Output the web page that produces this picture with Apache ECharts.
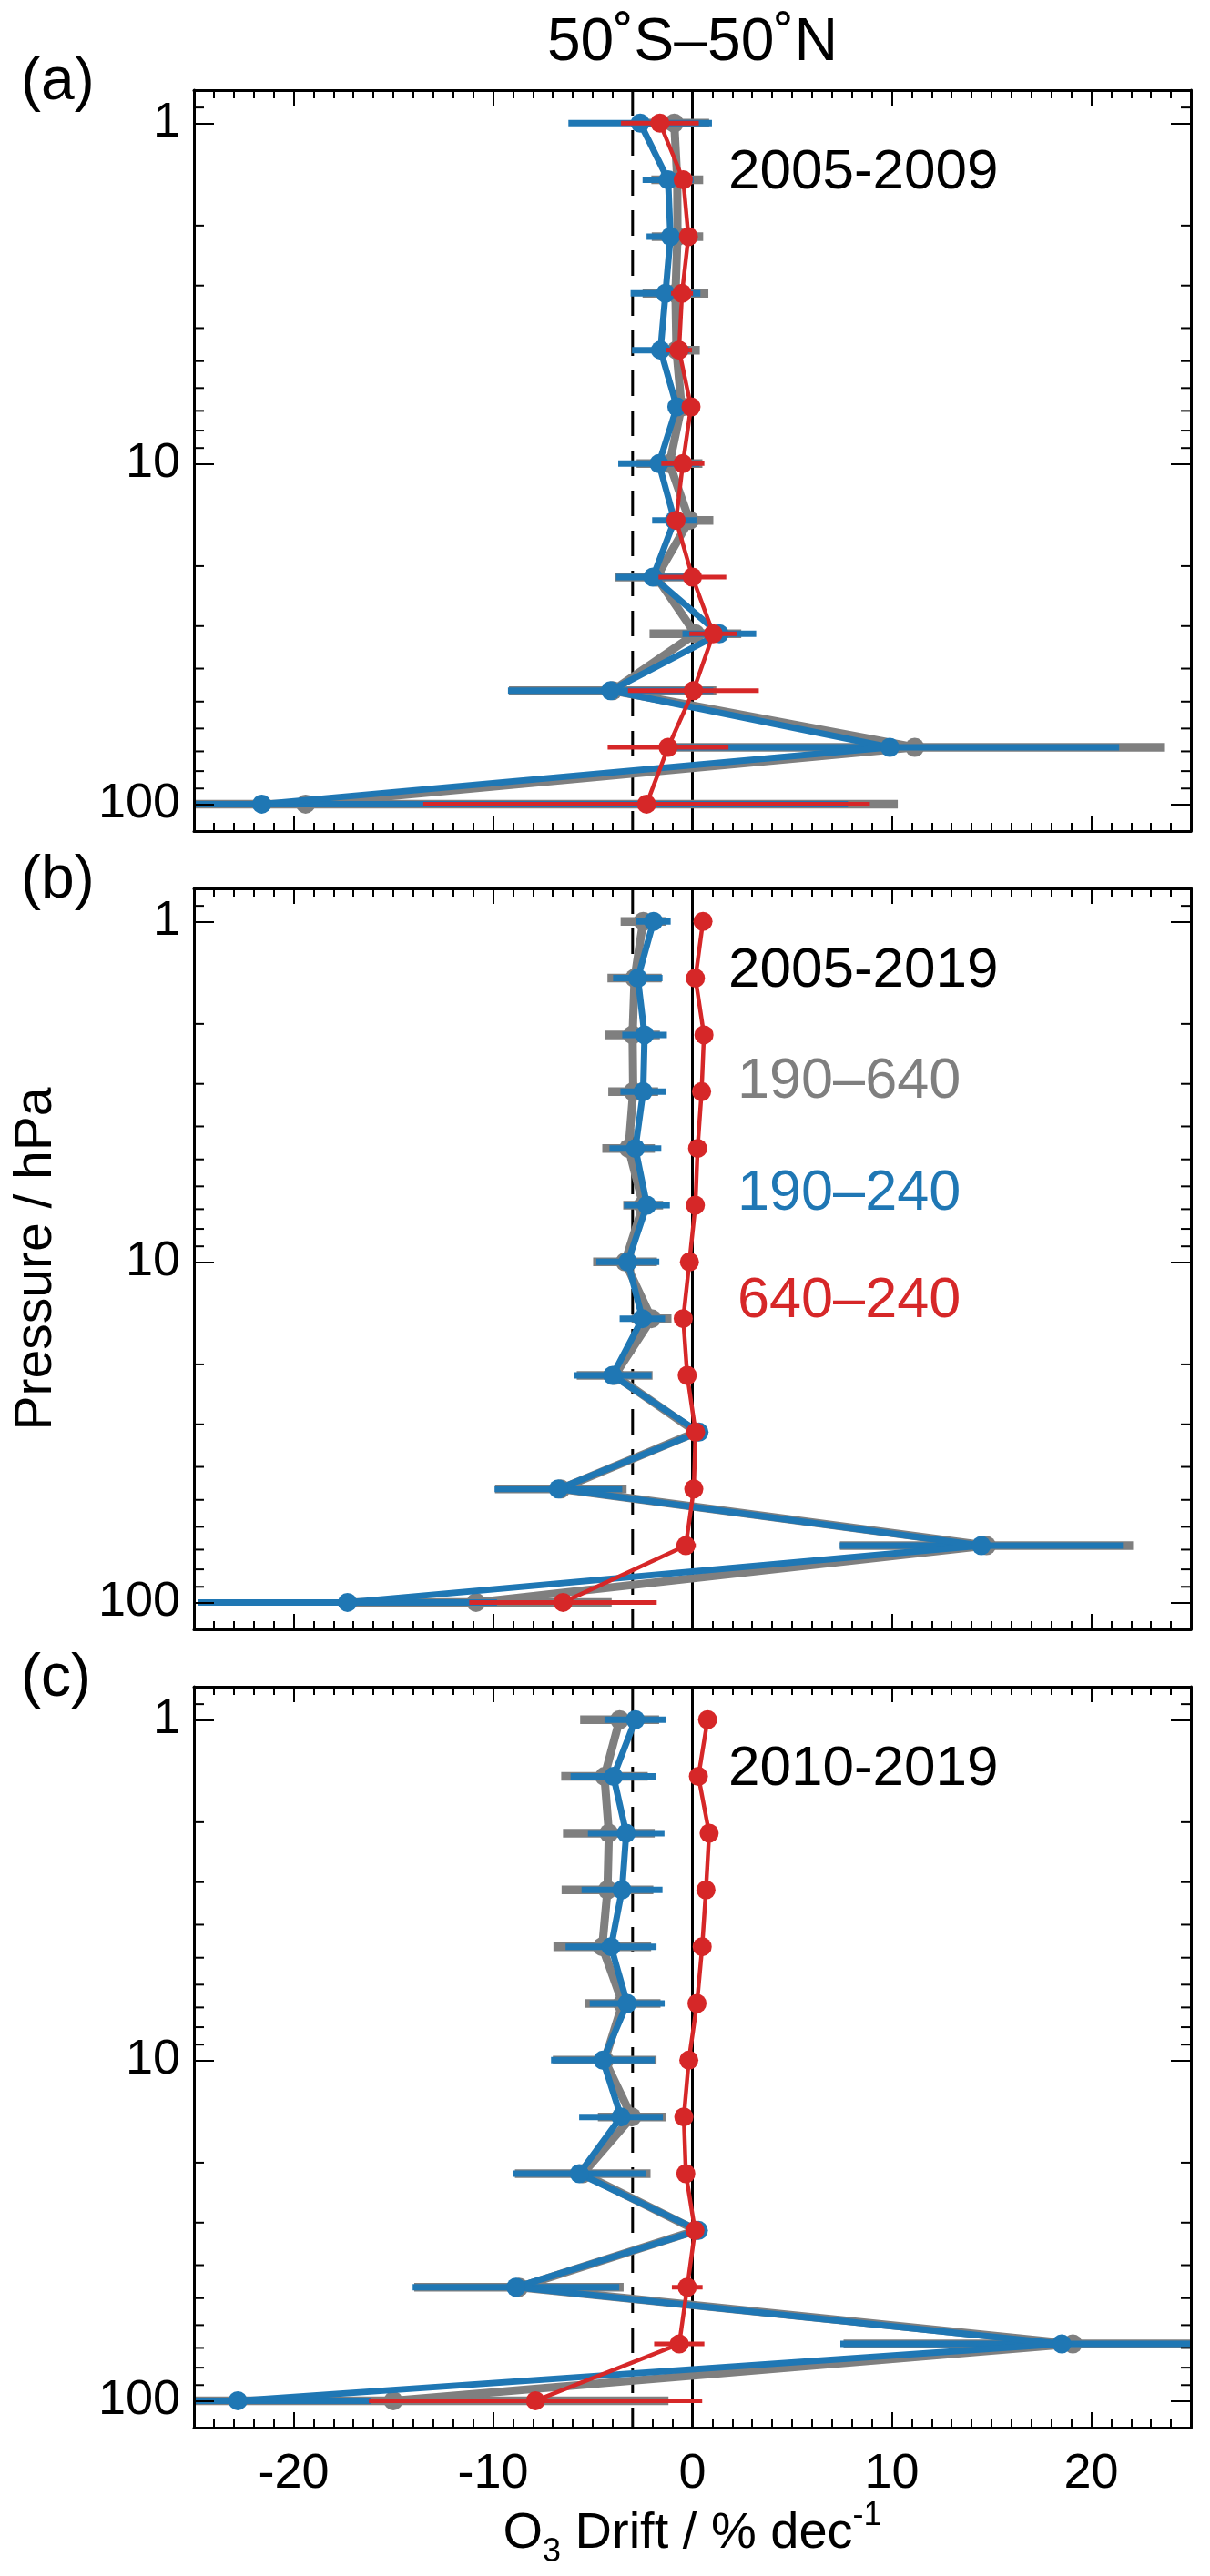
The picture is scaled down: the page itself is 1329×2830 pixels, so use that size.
<!DOCTYPE html>
<html>
<head>
<meta charset="utf-8">
<script src="https://cdn.jsdelivr.net/npm/echarts@6/dist/echarts.min.js"></script>
<style>
html,body{margin:0;padding:0;background:#ffffff;}
#chart{width:1329px;height:2830px;}
</style>
</head>
<body>
<div id="chart"></div>
<script>
// ---------------- data ----------------
var pressure = [1, 1.468, 2.154, 3.162, 4.642, 6.813, 10, 14.68, 21.54, 31.62, 46.42, 68.13, 100];
var periods = ['2005-2009', '2005-2019', '2010-2019'];
var panelLabels = ['(a)', '(b)', '(c)'];
var legendNames = ['190\u2013640', '190\u2013240', '640\u2013240'];
var xTicksRange = [-25, 25];
var yRange = [0.8, 120];
var yMinorTicks = [0.9, 2, 3, 4, 5, 6, 7, 8, 9, 20, 30, 40, 50, 60, 70, 80, 90];
var zeroLine = [0];
var driftLimit = [-3];

// panel (a) 2005-2009
var a_gray     = [-0.91, -0.76, -0.75, -0.85, -0.80, -0.55, -1.15, -0.15, -1.80, 0.15, -4.00, 11.15, -19.4];
var a_gray_err = [1.75, 1.30, 1.29, 1.65, 1.17, 0.60, 1.65, 1.20, 2.10, 2.30, 5.20, 12.55, 29.7];
var a_blue     = [-2.62, -1.22, -1.10, -1.35, -1.60, -0.78, -1.68, -0.90, -1.98, 1.35, -4.10, 9.90, -21.6];
var a_blue_err = [3.60, 1.28, 1.20, 1.75, 1.43, 0.42, 2.04, 1.12, 1.85, 1.85, 5.15, 11.5, 29.4];
var a_red      = [-1.63, -0.46, -0.20, -0.52, -0.67, -0.07, -0.48, -0.82, 0.00, 1.05, 0.05, -1.22, -2.30];
var a_red_err  = [1.95, 0.30, 0.30, 0.55, 0.65, 0.30, 1.08, 0.40, 1.70, 1.20, 3.28, 3.03, 11.2];

// panel (b) 2005-2019
var b_gray     = [-2.47, -2.90, -3.00, -2.97, -3.20, -2.47, -3.38, -2.05, -3.90, 0.20, -6.60, 14.75, -10.85];
var b_gray_err = [1.13, 1.36, 1.37, 1.25, 1.32, 1.00, 1.60, 1.00, 1.90, 0.40, 3.30, 7.35, 6.80];
var b_blue     = [-1.95, -2.74, -2.40, -2.47, -2.86, -2.28, -3.24, -2.51, -4.00, 0.33, -6.72, 14.49, -17.3];
var b_blue_err = [0.86, 1.24, 1.12, 1.14, 1.30, 1.15, 1.58, 1.14, 1.95, 0.40, 3.20, 7.10, 7.50];
var b_red      = [0.53, 0.15, 0.58, 0.46, 0.26, 0.15, -0.15, -0.46, -0.26, 0.16, 0.07, -0.33, -6.49];
var b_red_err  = [0.20, 0.20, 0.20, 0.20, 0.20, 0.20, 0.20, 0.20, 0.30, 0.30, 0.40, 0.50, 4.70];

// panel (c) 2010-2019
var c_gray     = [-3.65, -4.41, -4.19, -4.26, -4.52, -3.50, -4.40, -3.04, -5.50, 0.20, -8.70, 19.08, -15.0];
var c_gray_err = [1.98, 2.17, 2.30, 2.30, 2.45, 1.90, 2.60, 1.70, 3.40, 0.40, 5.25, 11.5, 13.8];
var c_blue     = [-2.86, -3.96, -3.32, -3.53, -4.08, -3.27, -4.49, -3.58, -5.67, 0.30, -8.85, 18.52, -22.8];
var c_blue_err = [1.55, 2.15, 1.92, 2.03, 2.28, 1.88, 2.60, 2.10, 3.33, 0.40, 5.18, 11.1, 6.70];
var c_red      = [0.76, 0.30, 0.84, 0.68, 0.49, 0.23, -0.18, -0.43, -0.33, 0.13, -0.26, -0.66, -7.87];
var c_red_err  = [0.20, 0.20, 0.20, 0.20, 0.20, 0.20, 0.20, 0.20, 0.30, 0.30, 0.77, 1.26, 8.36];

// ---------------- layout / style ----------------
var FONT = "'Liberation Sans', Arial, Helvetica, sans-serif";
var GRAY = '#7f7f7f', BLUE = '#1f77b4', RED = '#d62728';
var tops = [99, 976, 1853];
var GL = 213, GW = 1095, GH = 814;

var panels = [
  {gray: a_gray, grayErr: a_gray_err, blue: a_blue, blueErr: a_blue_err, red: a_red, redErr: a_red_err},
  {gray: b_gray, grayErr: b_gray_err, blue: b_blue, blueErr: b_blue_err, red: b_red, redErr: b_red_err},
  {gray: c_gray, grayErr: c_gray_err, blue: c_blue, blueErr: c_blue_err, red: c_red, redErr: c_red_err}
];
var seriesStyle = [
  {key: 'gray', color: GRAY, line: 9, bar: 9.5, sym: 21, z: 3},
  {key: 'blue', color: BLUE, line: 7, bar: 7, sym: 21, z: 5},
  {key: 'red',  color: RED,  line: 4.5, bar: 5, sym: 21, z: 7}
];

function fmtX(v) { return Math.abs(v) >= 24.9 ? '' : String(v); }
function fmtY(v) {
  var l = Math.log(v) / Math.LN10;
  return Math.abs(l - Math.round(l)) < 1e-6 ? String(Math.round(v)) : '';
}

var grids = [], xAxes = [], yAxes = [], series = [], graphics = [];

panels.forEach(function (pn, i) {
  grids.push({left: GL, top: tops[i], width: GW, height: GH});
  var common = {
    gridIndex: i, type: 'value', min: xTicksRange[0], max: xTicksRange[1], z: 20,
    axisLine: {onZero: false, lineStyle: {color: '#000', width: 3}},
    axisTick: {inside: true, length: 17, lineStyle: {color: '#000', width: 2}},
    minorTick: {show: true, splitNumber: 10, length: 9, lineStyle: {color: '#000', width: 2}},
    splitLine: {show: false}, minorSplitLine: {show: false}
  };
  xAxes.push(Object.assign({}, common, {
    position: 'bottom',
    axisLabel: {show: i === 2, formatter: fmtX, fontSize: 54, fontFamily: FONT, color: '#000', margin: 24},
    name: i === 2 ? 'O{sub|3} Drift / % dec{sup|-1}' : '',
    nameLocation: 'middle', nameGap: 72,
    nameTextStyle: {
      fontSize: 56, fontFamily: FONT, color: '#000', lineHeight: 76,
      rich: {
        sub: {fontSize: 36, fontFamily: FONT, color: '#000', lineHeight: 36, verticalAlign: 'bottom'},
        sup: {fontSize: 36, fontFamily: FONT, color: '#000', lineHeight: 36, verticalAlign: 'top'}
      }
    }
  }));
  xAxes.push(Object.assign({}, common, {position: 'top', axisLabel: {show: false}}));
  var ycommon = {
    gridIndex: i, type: 'log', logBase: 10, min: yRange[0], max: yRange[1], inverse: true, z: 20,
    axisLine: {onZero: false, lineStyle: {color: '#000', width: 3}},
    axisTick: {inside: true, length: 22, lineStyle: {color: '#000', width: 2}},
    splitLine: {show: false}
  };
  yAxes.push(Object.assign({}, ycommon, {
    position: 'left',
    axisLabel: {formatter: fmtY, fontSize: 54, fontFamily: FONT, color: '#000', margin: 15},
    name: i === 1 ? 'Pressure / hPa' : '',
    nameLocation: 'middle', nameRotate: 90, nameGap: 144,
    nameTextStyle: {fontSize: 57, fontFamily: FONT, color: '#000'}
  }));
  yAxes.push(Object.assign({}, ycommon, {position: 'right', axisLabel: {show: false}}));

  var xi = 2 * i, yi = 2 * i;

  // minor log ticks on both sides
  series.push({
    type: 'custom', xAxisIndex: xi, yAxisIndex: yi, silent: true, z: 21, clip: false,
    data: yMinorTicks.map(function (v) { return [0, v]; }),
    encode: {x: 0, y: 1},
    renderItem: function (params, api) {
      var p = api.value(1);
      var L = api.coord([xTicksRange[0], p]), R = api.coord([xTicksRange[1], p]);
      return {type: 'group', children: [
        {type: 'line', shape: {x1: L[0], y1: L[1], x2: L[0] + 11, y2: L[1]}, style: {stroke: '#000', lineWidth: 2}},
        {type: 'line', shape: {x1: R[0], y1: R[1], x2: R[0] - 11, y2: R[1]}, style: {stroke: '#000', lineWidth: 2}}
      ]};
    }
  });

  // reference vertical lines
  function vline(values, dash) {
    return {
      type: 'custom', xAxisIndex: xi, yAxisIndex: yi, silent: true, z: 2, clip: true,
      data: values.map(function (v) { return [v, 10]; }),
      encode: {x: 0, y: 1},
      renderItem: function (params, api) {
        var x = api.value(0);
        var T = api.coord([x, yRange[0]]), B = api.coord([x, yRange[1]]);
        return {type: 'line', shape: {x1: T[0], y1: T[1], x2: B[0], y2: B[1]},
          style: {stroke: '#000', lineWidth: 3, lineDash: dash, opacity: 1}};
      }
    };
  }
  series.push(vline(zeroLine, null));
  series.push(vline(driftLimit, [28, 16]));

  seriesStyle.forEach(function (st) {
    var vals = pn[st.key], errs = pn[st.key + 'Err'];
    // error bars
    series.push({
      type: 'custom', xAxisIndex: xi, yAxisIndex: yi, silent: true, z: st.z, clip: true,
      data: vals.map(function (v, k) { return [v, pressure[k], errs[k]]; }),
      encode: {x: 0, y: 1},
      renderItem: function (params, api) {
        var v = api.value(0), p = api.value(1), e = api.value(2);
        var A = api.coord([v - e, p]), B = api.coord([v + e, p]);
        return {type: 'line', shape: {x1: A[0], y1: A[1], x2: B[0], y2: B[1]},
          style: {stroke: st.color, lineWidth: st.bar, opacity: 1}};
      }
    });
    // profile line with markers
    series.push({
      type: 'line', xAxisIndex: xi, yAxisIndex: yi, silent: true, z: st.z + 1, clip: true,
      data: vals.map(function (v, k) { return [v, pressure[k]]; }),
      symbol: 'circle', symbolSize: st.sym, showSymbol: true,
      lineStyle: {color: st.color, width: st.line, opacity: 1},
      itemStyle: {color: st.color, borderWidth: 0, opacity: 1},
      emphasis: {disabled: true}
    });
  });

  graphics.push({type: 'text', x: 23, y: tops[i] - 8, z: 50,
    style: {text: panelLabels[i], fontSize: 66, fontFamily: FONT, fill: '#000',
      textAlign: 'left', textVerticalAlign: 'middle'}});
  graphics.push({type: 'text', x: 800, y: tops[i] + 91, z: 50,
    style: {text: periods[i], fontSize: 62, fontFamily: FONT, fill: '#000',
      textAlign: 'left', textVerticalAlign: 'middle'}});
});

// legend texts in panel (b)
var legendColors = [GRAY, BLUE, RED];
var legendOffsets = [213, 336, 454];
legendNames.forEach(function (t, k) {
  graphics.push({type: 'text', x: 810, y: tops[1] + legendOffsets[k], z: 50,
    style: {text: t, fontSize: 63, fontFamily: FONT, fill: legendColors[k],
      textAlign: 'left', textVerticalAlign: 'middle'}});
});
// title
graphics.push({type: 'text', x: GL + GW / 2, y: 48, z: 50,
  style: {text: '50\u02DAS\u201350\u02DAN', fontSize: 66, fontFamily: FONT, fill: '#000',
    textAlign: 'center', textVerticalAlign: 'middle'}});

var chart = echarts.init(document.getElementById('chart'), null, {renderer: 'canvas'});
chart.setOption({
  animation: false,
  backgroundColor: '#ffffff',
  grid: grids,
  xAxis: xAxes,
  yAxis: yAxes,
  series: series,
  graphic: graphics
});
</script>
</body>
</html>
